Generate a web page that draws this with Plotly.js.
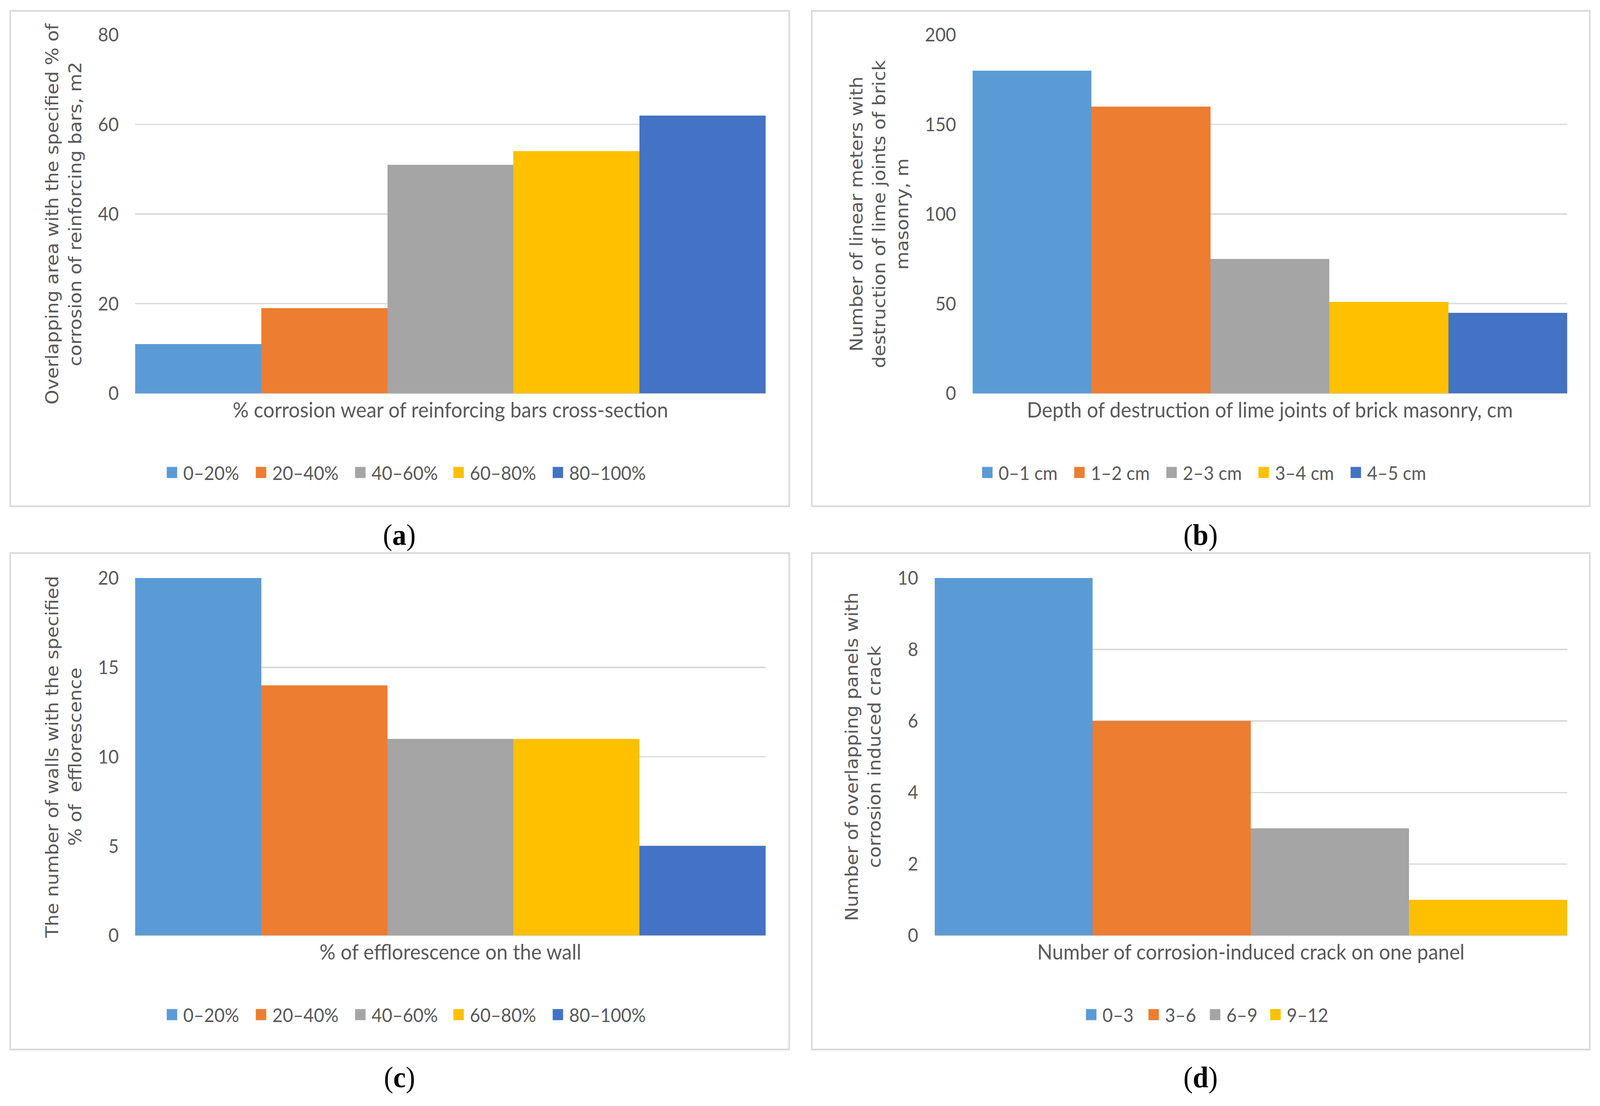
<!DOCTYPE html>
<html>
<head>
<meta charset="utf-8">
<script src="https://cdn.plot.ly/plotly-3.0.1.min.js"></script>
<style>
html,body{margin:0;padding:0;background:#fff;overflow:hidden;}
#wrap{overflow:hidden;background:#fff;position:absolute;left:0;top:0;}
#chart{transform-origin:0 0;}
</style>
</head>
<body>
<div id="wrap"><div id="chart"></div></div>
<script>
// ---------- data ----------
const seriesColors = ['#5B9BD5', '#ED7D31', '#A5A5A5', '#FFC000', '#4472C4'];

const xTitleA = '% corrosion wear of reinforcing bars cross-section';
const yTitleA = 'Overlapping area with the specified % of<br>corrosion of reinforcing bars, m2';
const seriesA = ['0–20%', '20–40%', '40–60%', '60–80%', '80–100%'];
const valuesA = [11, 19, 51, 54, 62];
const ticksA = [0, 20, 40, 60, 80];

const xTitleB = 'Depth of destruction of lime joints of brick masonry, cm';
const yTitleB = 'Number of linear meters with<br>destruction of lime joints of brick<br>masonry, m';
const seriesB = ['0–1 cm', '1–2 cm', '2–3 cm', '3–4 cm', '4–5 cm'];
const valuesB = [180, 160, 75, 51, 45];
const ticksB = [0, 50, 100, 150, 200];

const xTitleC = '% of efflorescence on the wall';
const yTitleC = 'The number of walls with the specified<br>% of \u00a0efflorescence';
const seriesC = ['0–20%', '20–40%', '40–60%', '60–80%', '80–100%'];
const valuesC = [20, 14, 11, 11, 5];
const ticksC = [0, 5, 10, 15, 20];

const xTitleD = 'Number of corrosion-induced crack on one panel';
const yTitleD = 'Number of overlapping panels with<br>corrosion induced crack';
const seriesD = ['0–3', '3–6', '6–9', '9–12'];
const valuesD = [10, 6, 3, 1];
const ticksD = [0, 2, 4, 6, 8, 10];

const panelLabels = ['a', 'b', 'c', 'd'];

// ---------- layout geometry (fractions of the 4368 x 2832 reference frame) ----------
const RW = 4368, RH = 2832;
const fx = x => x * 2.7946 / RW;          // from 1563-wide sketch coordinates
const fy = y => 1 - (y * 2.782) / RH;     // from 1018-tall sketch coordinates

const vw = window.innerWidth || RW, vh = window.innerHeight || RH;
const W = 1563, H = 1013;
const SX = vw / W, SY = vh / H;

const NARROW = 'Lato, "Liberation Sans", sans-serif';
const WIDE = '"DejaVu Sans", Verdana, sans-serif';
const TXT = '#595959';
const GRID = '#D9D9D9';
const TICK_SIZE = 17.5, LEG_SIZE = 17.5, XT_SIZE = 19.5, YT_SIZE = 17.1, LAB_SIZE = 27.5;

const panels = [
  {ax: '', series: seriesA, values: valuesA, ticks: ticksA, xt: xTitleA, yt: yTitleA, legend: 'legend',
   xd: [fx(132), fx(748)], yd: [fy(362), fy(32)], box: [10, 771, 10, 466], lab: 491.5, leg: 435, legShift: -3,
   lw: [42, 52, 51, 52, 0]},
  {ax: '2', series: seriesB, values: valuesB, ticks: ticksB, xt: xTitleB, yt: yTitleB, legend: 'legend2',
   xd: [fx(950), fx(1531)], yd: [fy(362), fy(32)], box: [793, 1553, 10, 466], lab: 491.5, leg: 435, legShift: -6,
   lw: [45, 45, 45, 45, 0]},
  {ax: '3', series: seriesC, values: valuesC, ticks: ticksC, xt: xTitleC, yt: yTitleC, legend: 'legend3',
   xd: [fx(132), fx(748)], yd: [fy(861), fy(532)], box: [10, 771, 509, 966], lab: 991.5, leg: 934, legShift: -3,
   lw: [42, 52, 51, 52, 0]},
  {ax: '4', series: seriesD, values: valuesD, ticks: ticksD, xt: xTitleD, yt: yTitleD, legend: 'legend4',
   xd: [fx(913), fx(1531)], yd: [fy(861), fy(532)], box: [793, 1553, 509, 966], lab: 991.5, leg: 934, legShift: -3,
   lw: [16, 15, 14, 0]}
];

const traces = [];
const layout = {
  width: W, height: H,
  margin: {l: 0, r: 0, t: 0, b: 0, pad: 0},
  paper_bgcolor: '#ffffff', plot_bgcolor: '#ffffff',
  barmode: 'group', bargap: 0, bargroupgap: 0,
  showlegend: true,
  shapes: [], annotations: [],
  font: {family: NARROW, color: TXT}
};

panels.forEach((p, k) => {
  p.series.forEach((name, i) => {
    const t = {
      type: 'bar', name: name,
      x: [p.xt], y: [p.values[i]],
      xaxis: 'x' + p.ax, yaxis: 'y' + p.ax,
      legend: p.legend,
      marker: {color: seriesColors[i], line: {width: 0}},
      hoverinfo: 'skip'
    };
    if (p.lw[i]) t.legendwidth = p.lw[i];
    traces.push(t);
  });
  layout['xaxis' + p.ax] = {
    domain: p.xd, anchor: 'y' + p.ax, type: 'category', range: [-0.5, 0.5],
    showgrid: false, zeroline: false, showline: false, showticklabels: false, ticks: '',
    fixedrange: true,
    title: {text: p.xt, font: {family: NARROW, size: XT_SIZE, color: TXT}, standoff: 8}
  };
  layout['yaxis' + p.ax] = {
    domain: p.yd, anchor: 'x' + p.ax,
    range: [p.ticks[0], p.ticks[p.ticks.length - 1]],
    tickmode: 'array', tickvals: p.ticks, ticktext: p.ticks.map(String),
    showgrid: true, gridcolor: GRID, gridwidth: 1.2,
    zeroline: true, zerolinecolor: GRID, zerolinewidth: 1.2,
    showline: false, ticks: '', ticklabelstandoff: 15,
    tickfont: {family: NARROW, size: TICK_SIZE, color: TXT},
    fixedrange: true,
    title: {text: p.yt, font: {family: WIDE, size: YT_SIZE, color: TXT}, standoff: 11}
  };
  layout[p.legend] = {
    orientation: 'h', x: fx((p.box[0] + p.box[1]) / 2 + p.legShift), xanchor: 'center',
    y: fy(p.leg), yanchor: 'middle',
    font: {family: NARROW, size: LEG_SIZE, color: TXT},
    bgcolor: 'rgba(0,0,0,0)', borderwidth: 0, traceorder: 'normal',
    itemclick: false, itemdoubleclick: false
  };
  layout.shapes.push({
    type: 'rect', xref: 'paper', yref: 'paper',
    x0: fx(p.box[0]), x1: fx(p.box[1]), y0: fy(p.box[3]), y1: fy(p.box[2]),
    line: {color: GRID, width: 1.5}, fillcolor: 'rgba(0,0,0,0)', layer: 'below'
  });
  layout.annotations.push({
    xref: 'paper', yref: 'paper', x: fx((p.box[0] + p.box[1]) / 2), y: fy(p.lab),
    xanchor: 'center', yanchor: 'middle', showarrow: false,
    text: '(<b>' + panelLabels[k] + '</b>)',
    font: {family: '"Liberation Serif", "Times New Roman", serif', size: LAB_SIZE, color: '#000000'}
  });
});

const wrap = document.getElementById('wrap');
wrap.style.width = vw + 'px';
wrap.style.height = vh + 'px';
const chart = document.getElementById('chart');
chart.style.width = W + 'px';
chart.style.height = H + 'px';
chart.style.transform = 'scale(' + SX + ',' + SY + ')';

Plotly.newPlot('chart', traces, layout, {staticPlot: true, displayModeBar: false}).then(() => {
  // Excel-style legend keys: slightly smaller squares sitting close to their labels (all four legends)
  document.querySelectorAll('#chart g.legendpoints path').forEach(el => {
    el.setAttribute('transform', 'translate(29,0) scale(0.85)');
  });
});
</script>
</body>
</html>
